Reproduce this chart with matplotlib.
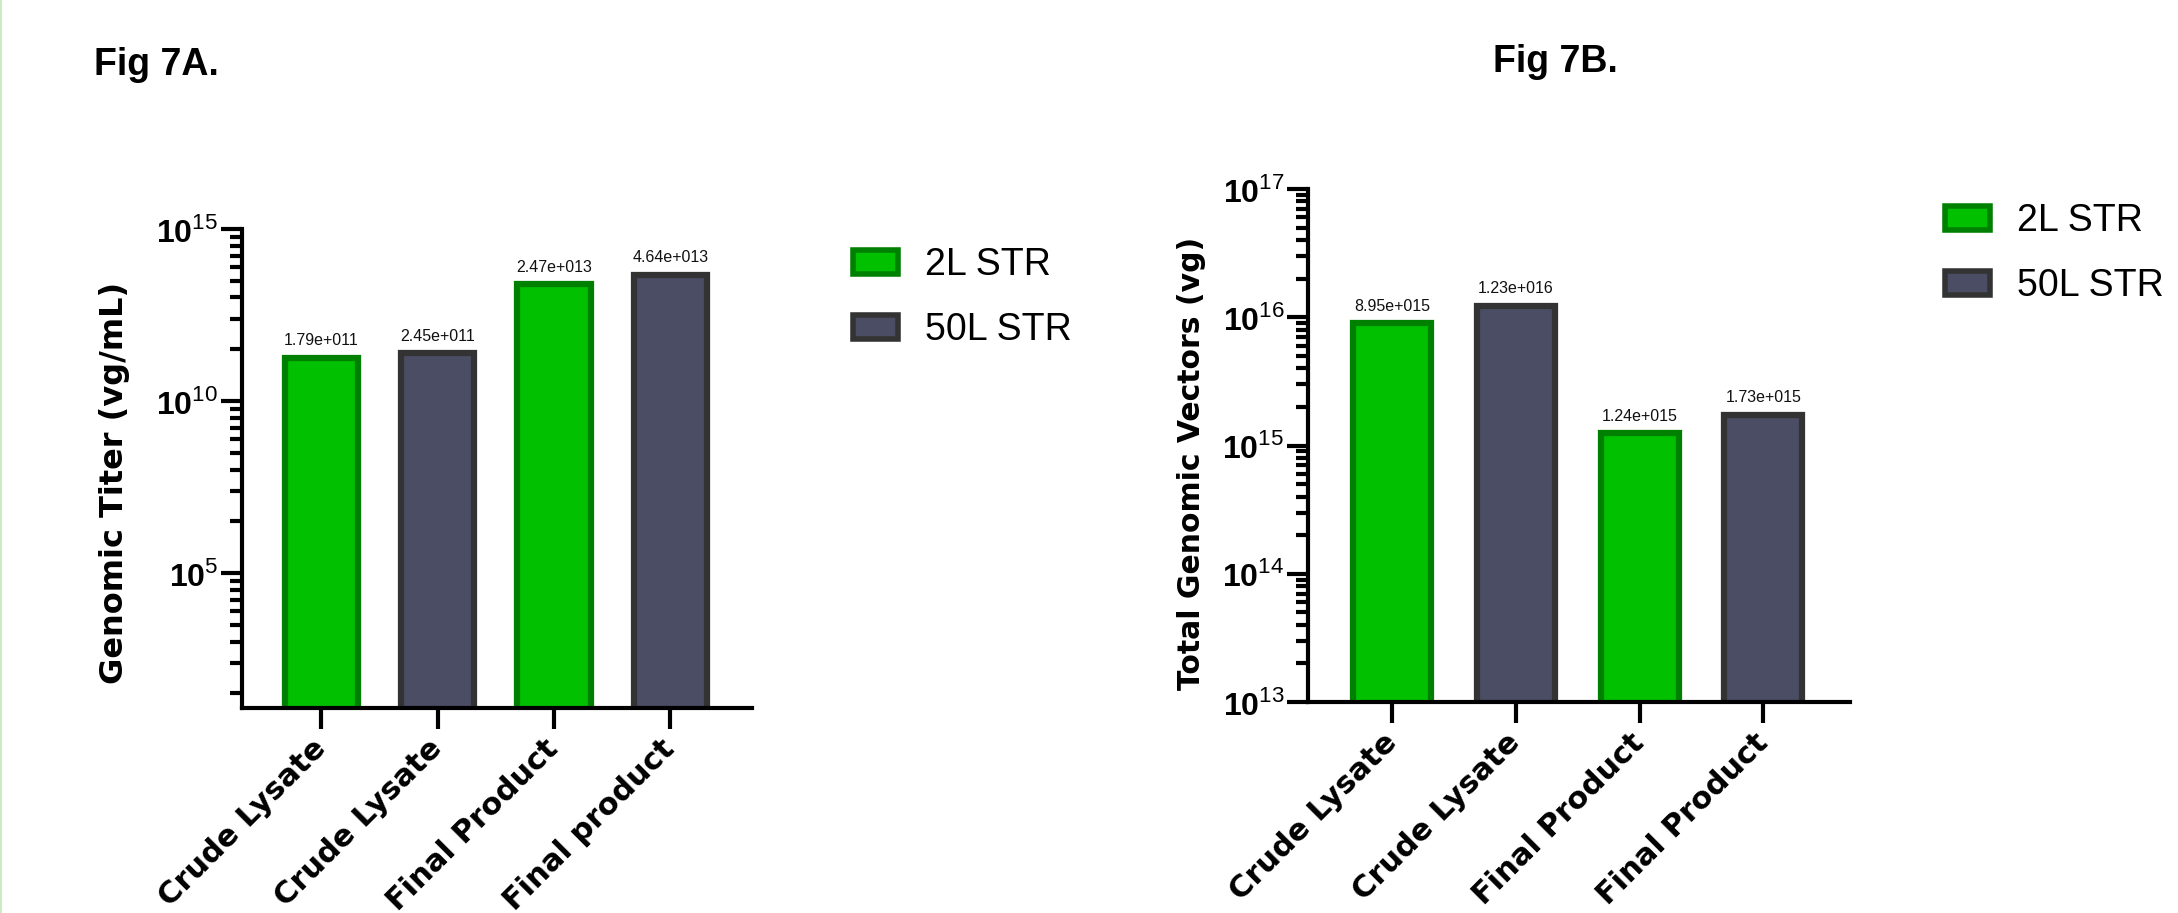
import numpy as np
import matplotlib
matplotlib.use("Agg")
import matplotlib.pyplot as plt
from matplotlib.patches import Patch
from matplotlib.lines import Line2D
from matplotlib.ticker import FixedLocator, NullFormatter

# ---------------- data ----------------
categories_a = ["Crude Lysate", "Crude Lysate", "Final Product", "Final product"]
values_a = [1.79e11, 2.45e11, 2.47e13, 4.64e13]
categories_b = ["Crude Lysate", "Crude Lysate", "Final Product", "Final Product"]
values_b = [8.95e15, 1.23e16, 1.24e15, 1.73e15]
groups = ["2L STR", "50L STR", "2L STR", "50L STR"]
series_names = ["2L STR", "50L STR"]

fill_colors = {"2L STR": "#00c000", "50L STR": "#4a4d64"}
edge_colors = {"2L STR": "#008000", "50L STR": "#333333"}

plt.rcParams["mathtext.fontset"] = "custom"
plt.rcParams["mathtext.rm"] = "Liberation Sans"
plt.rcParams["mathtext.bf"] = "Liberation Sans:bold"

W, H = 2178, 913
fig = plt.figure(figsize=(W / 100, H / 100), dpi=100)
fig.patch.set_facecolor("white")

def fmt_val(v):
    exp = int(np.floor(np.log10(v)))
    mant = v / 10 ** exp
    return f"{mant:.2f}e+{exp:03d}"

def px_axes(x0, x1, ytop, ybot):
    return [x0 / W, 1 - ybot / H, (x1 - x0) / W, (ybot - ytop) / H]

def style_axes(ax, cats, vals, ylim, majors, minors, ylabel, label_xy, label_size):
    x = np.arange(len(cats))
    for xi, v, g in zip(x, vals, groups):
        ax.bar(xi, v, width=0.63, bottom=ylim[0] * 0.5, color=fill_colors[g],
               edgecolor=edge_colors[g], linewidth=4.5, zorder=2)
        ax.annotate(fmt_val(v), (xi, v), xytext=(0, 7), textcoords="offset points",
                    ha="center", va="bottom", fontsize=11.5, family="Liberation Sans",
                    color="#111111")
    ax.set_yscale("log")
    ax.set_ylim(*ylim)
    ax.set_xlim(-0.68, 3.7)
    ax.yaxis.set_major_locator(FixedLocator(majors))
    ax.yaxis.set_minor_locator(FixedLocator(minors))
    ax.yaxis.set_minor_formatter(NullFormatter())
    ax.set_yticklabels([r"$\mathbf{10}^{%d}$" % int(round(np.log10(m))) for m in majors])
    ax.set_xticks(x)
    ax.set_xticklabels(cats, rotation=45, ha="right", va="center", rotation_mode="anchor",
                       fontsize=22, fontweight="bold", family="DejaVu Sans")
    for s in ("top", "right"):
        ax.spines[s].set_visible(False)
    for s in ("left", "bottom"):
        ax.spines[s].set_linewidth(3)
        ax.spines[s].set_capstyle("projecting")
    ax.tick_params(axis="y", which="major", length=15, width=3, pad=2, labelsize=23)
    ax.tick_params(axis="y", which="minor", length=9, width=3)
    ax.tick_params(axis="x", which="major", length=15, width=3, pad=11)
    ax.tick_params(axis="x", which="minor", length=0)
    ax.set_ylabel(ylabel, fontsize=label_size, fontweight="bold", family="DejaVu Sans")
    ax.yaxis.set_label_coords(*label_xy)
    ax.set_facecolor("none")

# ---- panel A ----
axA = fig.add_axes(px_axes(242, 752, 229, 708))
majorsA = [1e5, 1e10, 1e15]
minorsA = [10 ** (e + 5 * np.log10(k)) for e in (0, 5, 10) for k in range(2, 10)]
style_axes(axA, categories_a, values_a, (10 ** 1.08, 1e15), majorsA, minorsA,
           "Genomic Titer (vg/mL)", (-0.22, 0.47), 23)

# ---- panel B ----
axB = fig.add_axes(px_axes(1308, 1850, 189, 702))
majorsB = [1e13, 1e14, 1e15, 1e16, 1e17]
minorsB = [k * 10.0 ** e for e in range(13, 17) for k in range(2, 10)]
style_axes(axB, categories_b, values_b, (1e13, 1e17), majorsB, minorsB,
           "Total Genomic Vectors (vg)", (-0.188, 0.465), 21.5)

# ---- legends ----
handles = [Patch(facecolor=fill_colors[n], edgecolor=edge_colors[n], linewidth=4, label=n)
           for n in series_names]
for (lx, ly) in ((853, 247), (1945, 203)):
    fig.legend(handles=handles, loc="upper left", bbox_to_anchor=(lx / W, 1 - ly / H),
               frameon=False, prop={"family": "Liberation Sans", "size": 27},
               handlelength=1.2, handleheight=0.62, handletextpad=0.72,
               labelspacing=0.78, borderpad=0, borderaxespad=0)

# ---- titles ----
fig.text(94 / W, 1 - 65 / H, "Fig 7A.", fontsize=27, fontweight="bold",
         family="Liberation Sans", ha="left", va="center")
fig.text(1493 / W, 1 - 62 / H, "Fig 7B.", fontsize=27, fontweight="bold",
         family="Liberation Sans", ha="left", va="center")

# faint left border line
fig.add_artist(Line2D([0.0006, 0.0006], [0, 1], transform=fig.transFigure,
                      color="#cdebc0", linewidth=1.5))

fig.savefig("out.png", dpi=100)
